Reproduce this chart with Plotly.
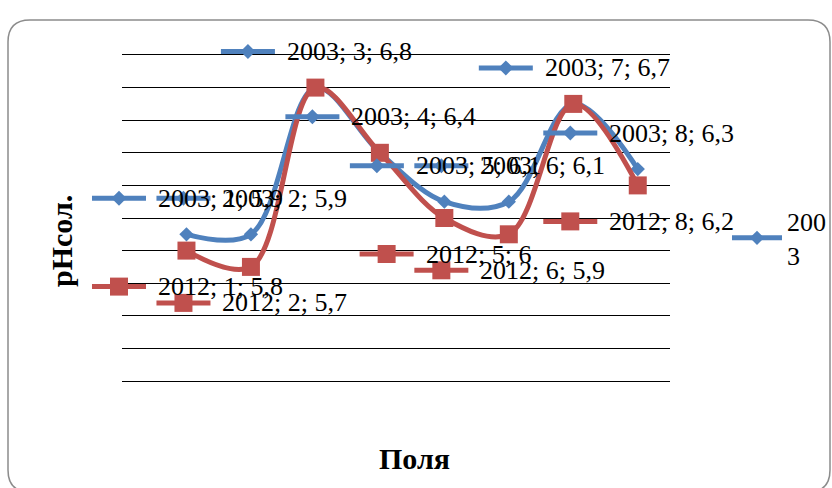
import plotly.graph_objects as go

# Soil acidity (pH, salt extract) on eight fields, two survey years
fields = [1, 2, 3, 4, 5, 6, 7, 8]
ph_2003 = [5.9, 5.9, 6.8, 6.4, 6.1, 6.1, 6.7, 6.3]
ph_2012 = [5.8, 5.7, 6.8, 6.4, 6.0, 5.9, 6.7, 6.2]
# which points carry a data label
labelled_2003 = [1, 2, 3, 4, 5, 6, 7, 8]
labelled_2012 = [1, 2, 5, 6, 8]

BLUE = "#4F81BD"
RED = "#C0504D"
SERIF = "Liberation Serif, Times New Roman, serif"

W, H = 832, 488
ML, MR, MT, MB = 122, 162, 55, 107
PW, PH = W - ML - MR, H - MT - MB
X_RANGE = (0, 8.5)
Y_RANGE = (5, 7)

LABEL_SIZE = 26
KEY_LEN, KEY_GAP = 54, 10


def fmt(v):
    return f"{v:g}".replace(".", ",")


def text_width(s, size):
    # Times/Liberation Serif advance widths (em)
    adv = {";": 0.278, " ": 0.25, ",": 0.25}
    return sum(adv.get(ch, 0.5) for ch in s) * size


def px_x(p):
    return (p - ML) / PW


def px_y(p):
    return (MT + PH - p) / PH


def data_to_paper_x(x):
    return (x - X_RANGE[0]) / (X_RANGE[1] - X_RANGE[0])


def data_to_paper_y(y):
    return (y - Y_RANGE[0]) / (Y_RANGE[1] - Y_RANGE[0])


fig = go.Figure()
fig.add_trace(go.Scatter(
    x=fields, y=ph_2003, name="200<br>3", mode="lines+markers",
    line=dict(color=BLUE, width=5, shape="spline", smoothing=1),
    marker=dict(symbol="diamond", size=11, color=BLUE),
))
fig.add_trace(go.Scatter(
    x=fields, y=ph_2012, name="2012", mode="lines+markers", showlegend=False,
    line=dict(color=RED, width=5, shape="spline", smoothing=1),
    marker=dict(symbol="square", size=18, color=RED),
))

shapes = []
annotations = []


def add_label(year, x, v, color, symbol, dy):
    txt = f"{year}; {x}; {fmt(v)}"
    tw = text_width(txt, LABEL_SIZE)
    total = KEY_LEN + KEY_GAP + tw
    left = -total / 2
    # legend key drawn in pixels around the labelled point (paper-anchored
    # so it is not clipped at the plot edges)
    common = dict(xref="paper", yref="paper", xsizemode="pixel",
                  ysizemode="pixel", xanchor=data_to_paper_x(x),
                  yanchor=data_to_paper_y(v), layer="above")
    shapes.append(dict(type="line", x0=left, x1=left + KEY_LEN, y0=dy, y1=dy,
                       line=dict(color=color, width=5), **common))
    cx = left + KEY_LEN / 2
    if symbol == "diamond":
        r = 7.5
        path = (f"M {cx - r} {dy} L {cx} {dy + r} L {cx + r} {dy} "
                f"L {cx} {dy - r} Z")
    else:
        r = 9
        path = (f"M {cx - r} {dy - r} L {cx + r} {dy - r} L {cx + r} {dy + r} "
                f"L {cx - r} {dy + r} Z")
    shapes.append(dict(type="path", path=path, fillcolor=color,
                       line=dict(color=color, width=0), **common))
    annotations.append(dict(
        x=x, y=v, xref="x", yref="y", text=txt, showarrow=False,
        xanchor="left", yanchor="middle",
        xshift=left + KEY_LEN + KEY_GAP, yshift=dy,
        font=dict(family=SERIF, size=LABEL_SIZE, color="black"),
    ))


for f in labelled_2003:
    add_label(2003, f, ph_2003[f - 1], BLUE, "diamond", 36)
for f in labelled_2012:
    add_label(2012, f, ph_2012[f - 1], RED, "square", -36)

# rounded frame around the chart area
fx0, fy0, fx1, fy1, rad = 8, 20, 830, 492, 22
frame = (
    f"M {px_x(fx0)} {px_y(fy0 + rad)} "
    f"Q {px_x(fx0)} {px_y(fy0)} {px_x(fx0 + rad)} {px_y(fy0)} "
    f"L {px_x(fx1 - rad)} {px_y(fy0)} "
    f"Q {px_x(fx1)} {px_y(fy0)} {px_x(fx1)} {px_y(fy0 + rad)} "
    f"L {px_x(fx1)} {px_y(fy1 - rad)} "
    f"Q {px_x(fx1)} {px_y(fy1)} {px_x(fx1 - rad)} {px_y(fy1)} "
    f"L {px_x(fx0 + rad)} {px_y(fy1)} "
    f"Q {px_x(fx0)} {px_y(fy1)} {px_x(fx0)} {px_y(fy1 - rad)} Z"
)
shapes.append(dict(type="path", path=frame, xref="paper", yref="paper",
                   line=dict(color="#8C8C8C", width=1.5), layer="below"))

annotations.append(dict(
    x=px_x(414), y=px_y(458), xref="paper", yref="paper", text="<b>Поля</b>",
    showarrow=False, xanchor="center", yanchor="middle",
    font=dict(family=SERIF, size=30, color="black"),
))
annotations.append(dict(
    x=px_x(61), y=px_y(241), xref="paper", yref="paper", text="<b>pHсол.</b>",
    showarrow=False, xanchor="center", yanchor="middle", textangle=-90,
    font=dict(family=SERIF, size=30, color="black"),
))

fig.update_layout(
    width=W, height=H,
    margin=dict(l=ML, r=MR, t=MT, b=MB, autoexpand=False),
    paper_bgcolor="white", plot_bgcolor="white",
    shapes=shapes, annotations=annotations,
    showlegend=True,
    legend=dict(x=px_x(727), y=px_y(238), xanchor="left", yanchor="middle",
                font=dict(family=SERIF, size=26, color="black"),
                bgcolor="rgba(0,0,0,0)", itemwidth=50),
    xaxis=dict(range=list(X_RANGE), showgrid=False, showticklabels=False,
               zeroline=False, showline=True, mirror=True, linecolor="black",
               linewidth=1.3, ticks=""),
    yaxis=dict(range=list(Y_RANGE), dtick=0.2, tick0=5, showgrid=True,
               gridcolor="black", gridwidth=1.3, showticklabels=False,
               zeroline=False, showline=False, ticks=""),
)

fig.write_html("out.html")
